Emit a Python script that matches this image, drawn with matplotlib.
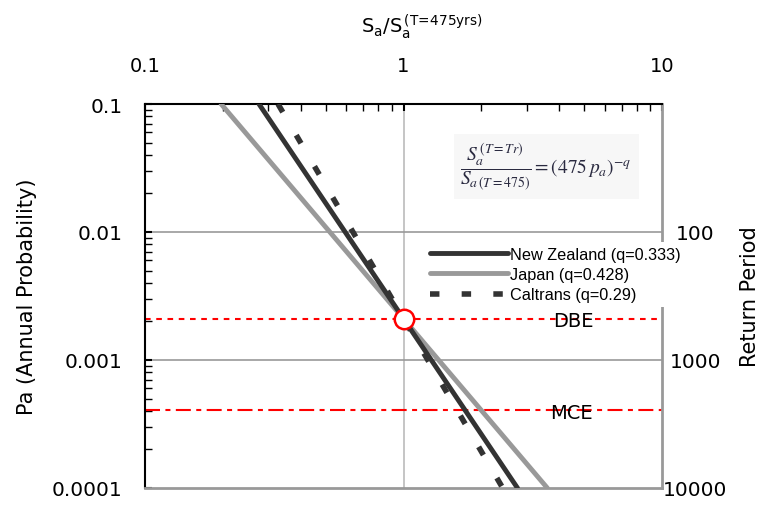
import numpy as np
import matplotlib.pyplot as plt
from matplotlib.lines import Line2D

# endpoints of each straight line (log-log), Sa ratio vs annual probability
pa_ends = [0.1, 0.0001]
nz_ratio = [0.276, 2.76]
jp_ratio = [0.197, 3.60]
ct_ratio = [0.327, 2.42]

series_labels = ['New Zealand (q=0.333)', 'Japan (q=0.428)', 'Caltrans (q=0.29)']

pa_dbe = 1 / 475.0
pa_mce = 1 / 2475.0

rp_ticks = [0.01, 0.001, 0.0001]
rp_labels = ['100', '1000', '10000']

plt.rcParams['font.family'] = ['DejaVu Sans']

fig = plt.figure(figsize=(7.63, 5.06), dpi=100)
fig.subplots_adjust(left=145/763, right=662/763, top=1-105/506, bottom=1-489/506)
ax = fig.add_subplot(111)

ax.set_xscale('log')
ax.set_yscale('log')
ax.set_xlim(0.1, 10)
ax.set_ylim(0.0001, 0.1)

# grid lines
ax.axvline(1, color='#bbbbbb', lw=1.2, zorder=1)
for yv in [0.01, 0.001]:
    ax.axhline(yv, color='#999999', lw=1.2, zorder=1)

# design levels
ax.axhline(pa_dbe, color='red', lw=1.5, dashes=(2.7, 2.7), zorder=2)
ax.axhline(pa_mce, color='red', lw=1.5, dashes=(7.2, 2.6, 2.4, 2.6), zorder=2)
ax.text(4.55, pa_dbe * 0.96, 'DBE', fontsize=14, ha='center', va='center', zorder=3)
ax.text(4.45, pa_mce * 0.96, 'MCE', fontsize=14, ha='center', va='center', zorder=3)

ax.plot(jp_ratio, pa_ends, color='#999999', lw=3.5, solid_capstyle='round', zorder=4)
ax.plot(nz_ratio, pa_ends, color='#333333', lw=3.5, solid_capstyle='round', zorder=5)
ax.plot(ct_ratio, pa_ends, color='#333333', lw=4, dashes=(1.7, 4.8),
        dash_capstyle='butt', zorder=5)

ax.plot([1], [pa_dbe], 'o', ms=14, mfc='white', mec='red', mew=1.8, zorder=6)

# equation
ax.text(0.776, 0.837, r'$\dfrac{S_a^{\,(T=Tr)}}{S_{a\,(T=475)}}=(475\,p_a)^{-q}$',
        transform=ax.transAxes, fontsize=14, color='#2a2a40', math_fontfamily='stix',
        ha='center', va='center',
        bbox=dict(boxstyle='square,pad=0.35', fc='#f7f7f7', ec='none'), zorder=3)

# spines and ticks
for s in ['left', 'top']:
    ax.spines[s].set_color('black')
    ax.spines[s].set_linewidth(1.5)
for s in ['right', 'bottom']:
    ax.spines[s].set_color('#999999')
    ax.spines[s].set_linewidth(2)

ax.xaxis.tick_top()
ax.xaxis.set_label_position('top')
ax.set_xticks([0.1, 1, 10])
ax.set_xticklabels(['0.1', '1', '10'])
ax.set_yticks([0.1, 0.01, 0.001, 0.0001])
ax.set_yticklabels(['0.1', '0.01', '0.001', '0.0001'])
ax.tick_params(axis='both', which='major', direction='in', length=5, width=1.5,
               labelsize=14.5)
ax.tick_params(axis='both', which='minor', direction='in', length=5, width=1)
ax.tick_params(axis='y', which='both', right=False)
ax.tick_params(axis='y', which='major', pad=16)
ax.tick_params(axis='x', which='both', bottom=False)
ax.tick_params(axis='x', which='major', labelsize=14, pad=21)

ax.set_xlabel(r'$\mathregular{S_a/S_a^{\,(T\!=\!475yrs)}}$', fontsize=14)
ax.xaxis.label.set_va('bottom')
ax.xaxis.set_label_coords(0.535, 1 + 64/384)
ax.set_ylabel('Pa (Annual Probability)', fontsize=15, labelpad=11)

# return period axis
ax2 = ax.twinx()
ax2.set_yscale('log')
ax2.set_ylim(ax.get_ylim())
ax2.set_yticks(rp_ticks)
ax2.set_yticklabels(rp_labels)
ax2.yaxis.set_minor_locator(plt.NullLocator())
ax2.tick_params(axis='y', length=0, labelsize=14.5, pad=24)
for t in ax2.get_yticklabels():
    t.set_ha('center')
for s in ax2.spines.values():
    s.set_visible(False)
ax2.set_ylabel('Return Period', fontsize=15, labelpad=9)

handles = [
    Line2D([], [], color='#333333', lw=3.5, solid_capstyle='round'),
    Line2D([], [], color='#999999', lw=3.5, solid_capstyle='round'),
    Line2D([], [], color='#333333', lw=4, dashes=(1.7, 4.0), dash_capstyle='butt'),
]
leg = ax2.legend(handles, series_labels, loc='upper left',
                 bbox_to_anchor=(425/763, 1-243/506), bbox_transform=fig.transFigure,
                 prop={'family': 'Liberation Sans', 'size': 11.7},
                 frameon=True, facecolor='white', edgecolor='none', framealpha=1,
                 handlelength=4.8, handletextpad=0.15, labelspacing=0.32,
                 borderpad=0.3, borderaxespad=0, fancybox=False)

fig.savefig('out.png', dpi=100)
